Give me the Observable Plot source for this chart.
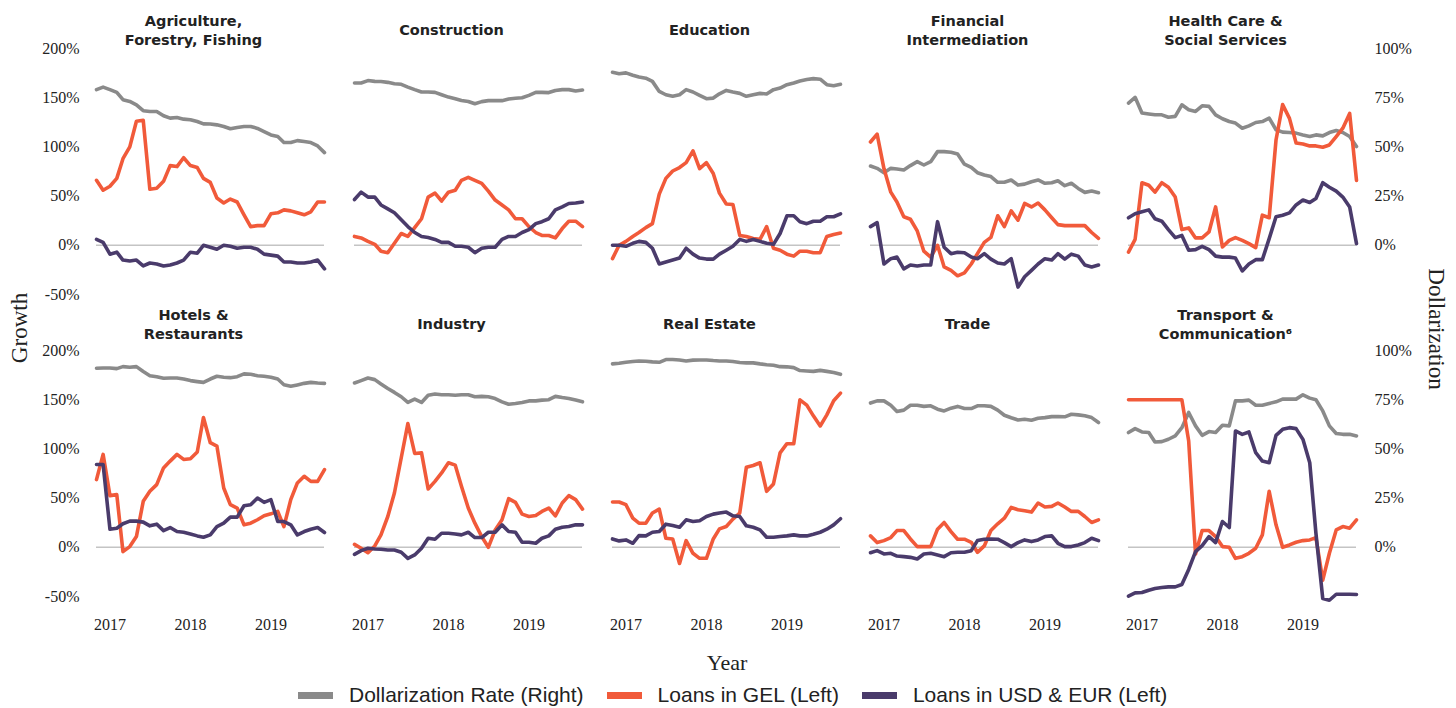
<!DOCTYPE html>
<html>
<head>
<meta charset="utf-8">
<script src="https://cdn.jsdelivr.net/npm/d3@7"></script>
<script src="https://cdn.jsdelivr.net/npm/@observablehq/plot@0.6"></script>
<style>
  html, body { margin: 0; padding: 0; background: #fff; }
  #wrap { position: relative; width: 1456px; height: 708px; overflow: hidden; }
  .axlab { position: absolute; font-family: "Liberation Serif", serif; font-size: 23px; color: #222; white-space: nowrap; }
  #growth { left: 20px; top: 328px; transform: translate(-50%, -50%) rotate(-90deg); }
  #dollar { left: 1436px; top: 329px; transform: translate(-50%, -50%) rotate(90deg); }
  #year { left: 727px; top: 663px; transform: translate(-50%, -50%); font-size: 22px; }
  #legend { position: absolute; left: 298px; top: 695px; transform: translateY(-50%); display: flex; align-items: center;
            font-family: "Liberation Sans", Arial, sans-serif; font-size: 21px; color: #222; white-space: nowrap; }
  .sw { display: inline-block; width: 35px; height: 7px; margin-right: 16px; }
  .item { display: flex; align-items: center; margin-right: 23px; }
</style>
</head>
<body>
<div id="wrap">
  <div id="chart"></div>
  <div class="axlab" id="growth">Growth</div>
  <div class="axlab" id="dollar">Dollarization</div>
  <div class="axlab" id="year">Year</div>
  <div id="legend"></div>
</div>
<script>
// Sectors (row-major, 5 columns x 2 rows)
const sectors = [
  "Agriculture,\nForestry, Fishing", "Construction", "Education", "Financial\nIntermediation", "Health Care &\nSocial Services",
  "Hotels &\nRestaurants", "Industry", "Real Estate", "Trade", "Transport &\nCommunication\u2076"
];

// Monthly observations: Nov 2016 – Sep 2019
const firstMonth = new Date(Date.UTC(2016, 10, 1));
const lastMonth = new Date(Date.UTC(2019, 8, 1));
const yearTicks = [2017, 2018, 2019];

// Dollarization rate (%), right axis
const dollarRate = [
  [79.1,80.4,79.1,77.7,74.0,73.1,71.4,68.4,68.0,68.0,65.8,64.6,64.9,64.1,63.8,62.9,61.7,61.6,61.2,60.4,59.2,59.9,60.4,60.4,59.4,57.8,56.1,55.3,52.2,52.2,53.2,52.7,52.2,50.5,47.1],
  [82.5,82.5,83.7,83.3,83.2,82.8,82.1,81.8,80.4,79.1,77.9,77.9,77.7,76.5,75.3,74.5,73.6,73.1,71.9,73.0,73.5,73.6,73.5,74.3,74.7,75.0,76.2,77.7,77.7,77.6,78.7,79.1,79.1,78.4,78.9],
  [87.9,87.2,87.6,86.4,85.5,84.9,83.3,78.2,76.5,75.7,76.5,79.1,77.9,76.2,74.5,74.8,77.0,78.7,77.9,77.2,75.7,76.5,77.2,76.9,79.1,79.9,81.6,82.5,83.5,84.2,84.7,84.4,81.6,81.1,81.8],
  [40.3,39.1,36.9,39.1,38.8,38.3,40.5,42.5,40.8,42.5,47.6,47.6,47.3,46.4,41.2,39.6,36.9,35.7,34.9,32.0,32.0,33.2,30.6,31.1,32.3,33.2,31.5,31.8,32.8,30.3,31.5,28.9,26.9,27.6,26.7],
  [72.3,75.2,67.2,66.7,66.3,66.3,65.1,65.5,71.4,68.9,68.0,70.9,70.6,66.3,64.3,62.9,62.1,59.5,60.7,62.4,62.9,64.6,58.7,57.5,57.3,57.0,56.1,55.3,56.1,55.6,57.3,58.3,57.3,55.3,50.2],
  [91.0,91.1,91.1,90.8,91.8,91.5,91.8,89.3,87.2,86.7,85.9,86.0,86.0,85.5,84.7,84.2,83.8,85.5,86.9,86.4,86.2,86.7,88.1,87.9,87.2,86.9,86.4,85.5,82.6,81.8,82.5,83.3,83.8,83.5,83.3],
  [83.5,84.7,86.0,85.2,83.0,80.7,78.7,76.5,73.6,75.3,73.6,77.3,77.9,77.5,77.5,77.3,77.5,77.5,76.5,76.7,76.5,75.6,73.9,72.7,73.1,73.6,74.4,74.4,74.8,75.0,76.7,76.1,75.6,74.8,73.9],
  [93.2,93.5,94.0,94.4,94.7,94.5,94.2,94.0,95.4,95.4,95.2,94.7,95.1,95.2,95.2,94.9,94.7,94.7,94.4,93.9,93.7,93.7,93.2,92.8,92.5,91.8,91.7,91.3,89.8,89.6,89.4,89.9,89.4,88.8,87.9],
  [73.3,74.4,74.4,72.2,69.0,69.7,72.2,72.2,71.6,71.9,70.2,69.3,70.7,71.6,70.5,70.5,71.9,71.9,71.6,69.7,67.1,65.8,64.7,65.1,64.6,65.6,65.9,66.4,66.4,66.3,67.6,67.3,66.8,65.9,63.4],
  [58.3,60.3,58.6,58.3,53.5,53.7,54.9,56.6,60.8,68.5,61.7,56.9,58.8,58.3,62.0,61.7,74.4,74.4,74.8,72.2,72.2,73.1,73.9,75.3,75.3,75.3,77.5,75.8,75.0,69.3,61.7,57.8,57.4,57.4,56.6]
];

// Growth of loans in GEL (%), left axis
const gelGrowth = [
  [66,56,60,68,88,100,126,127,57,58,65,81,80,89,81,79,68,64,48,43,47,44,31,19,20,20,32,33,36,35,33,31,34,44,44],
  [9,7.5,4,1,-6,-7.5,2,12,9,18,27,49,53,45,54,56,66,69,66,63,55,46,41,36,27,27,19,13,10,10,7.5,17,24.5,24.5,19],
  [-13.5,0,4,9,13,18,22,52,68,75.5,79,84,96,78,84,73,53,42,41.5,10,9,7,6,19,-3,-5,-9,-11,-6,-6,-7.5,-7.5,9,11,12.5],
  [105,113,78,54,44,29,26.5,14.6,-6,-12,0,-22,-25.5,-31,-28,-19,-8.5,3,8,30,19,35,25.5,42.5,39,43,36,28,21,20,20,20,20,13,7],
  [-7,6,63.6,61,54,63.6,59,49,16,17.7,7.5,7.5,13.6,39,-1.7,5,7.8,5,1.7,-2.4,30.6,28,107,143,129,104,103,101,101,99.7,102,110.5,119,134,66],
  [68.8,94.4,52.5,53.5,-4.4,0.7,10.9,46.7,56.9,63.7,80.7,87.6,94.4,89.3,90,96.8,131.9,106.3,102.9,60.3,43.3,39.9,22.8,24.5,28,32,34,36.5,21,48.4,65.4,72.2,67,67,79],
  [3,-1,-5.5,1.4,12.6,31.3,55.2,91,125.7,95.4,96,59.3,67,75.6,85.9,83.5,62,39.9,24.5,10.9,0,17.7,28,49.4,45.7,33.7,31.3,32.4,36.5,39.9,32,45,52.5,48.4,38.8],
  [46,46,43.3,29.6,24.5,24.5,34.8,38.8,9.2,8.5,-16.4,6.8,-6.1,-11.2,-11.2,8.5,18.7,21.1,28.6,34.8,81.4,83.1,85.9,56.9,64.4,96,105.3,105.3,149.9,144.5,133.6,123.3,134.6,148.9,156.7],
  [11.6,4.8,6.8,9.9,17,17,8.5,0.7,0.7,0.7,18.4,25.2,16,8.2,8.2,5.1,-5.1,1.4,17,23.9,29.6,40.5,38.2,37.1,35.8,45,40.9,41.6,45,40.9,36.5,36.5,31.3,25.2,27.9],
  [150,150,150,150,150,150,150,150,150,108,-6.8,17,17,10.9,0.7,0,-11.2,-9.5,-6.1,-1,12.6,56.9,22.8,0,2.4,5.1,6.8,7.5,9.9,-33.4,-6.1,17.7,21.1,19.4,27.9]
];

// Growth of loans in USD & EUR (%), left axis
const fxGrowth = [
  [6,3,-9,-7,-15,-16,-15,-21,-18,-19,-21,-20,-18,-15,-7,-8,0,-2,-4,0,-1,-3,-2,-2,-4,-9,-10,-11,-17,-17,-18,-18,-17,-15,-24],
  [46.5,54,49,49,41,37,33,26,19,13,9,8,6,3,3,-1,-1,-2,-7.5,-3,-2,-2,6,9,9,13,16,22,24,27,36,39,42.5,43,44],
  [0,0,-1,2,4,3,-3,-19,-17,-15,-13,-3,-9,-13,-14,-14,-9,-5,-1,6,4,6,4,2,1,12,30,30,24,22,24.5,24.5,29,29,32],
  [19,23,-19,-13.6,-12,-24,-20,-21,-20,-20,24,-2,-8.5,-7,-7.5,-12,-13.6,-8.5,-14,-18,-19,-13.6,-42.5,-32,-25.5,-19,-13.6,-15,-8.5,-14,-9,-11,-20,-22,-20],
  [28,32,34,36,27,24.5,16,7.8,10,-5,-4.4,-1,-4.4,-11,-12,-12,-13,-26,-19,-14.6,-14.6,6.8,29,30.6,33,41,46,43.5,47.6,63.6,59,55,49,39,1.7],
  [84.2,84.2,18.4,19.4,23.9,26.6,26.6,25.6,21.8,23.5,17,20.1,16,15.3,13.6,11.6,10.2,12.6,21.1,24.5,30.7,30.7,42.2,43.3,50.1,45.7,48.4,26.2,26.2,22.8,12.6,16,18.4,20.1,15],
  [-7.2,-3.4,-1,-1.7,-2,-2.7,-2.7,-5,-11.2,-7.8,-1,9.2,8.2,14.3,14.3,13.6,12.6,15.3,9.9,9.9,15.3,15.3,22.8,16,15.3,5.1,5.1,4.1,9.2,11.6,18.4,20.4,21.1,22.8,22.8],
  [8.5,6.5,7.5,4.1,11.9,11.6,15.3,16,23.5,22.1,20.4,27.9,26.2,26.9,31.3,33.7,34.8,35.8,32,31.3,21.8,20.4,17.7,10.2,10.2,10.9,11.6,12.6,11.6,11.6,13.3,15.3,18.4,22.8,29],
  [-5.5,-3.4,-6.8,-6.1,-8.9,-9.5,-10.2,-11.9,-6.8,-6.1,-7.8,-9.5,-5.5,-5.1,-5.1,-3.4,6.8,8.2,8.5,8.2,4.8,0.7,4.8,7.5,5.8,7.5,10.9,11.6,4.1,0.7,0.7,2.4,4.8,9.2,6.8],
  [-49.7,-46.3,-46,-43.6,-41.9,-40.9,-40.2,-40.2,-37.8,-22.5,-4.4,1.7,10.9,4.8,26.2,20.1,118.2,114.8,117.2,96.1,87.6,85.9,113.8,119.9,121.6,120.6,109.7,85.9,14.3,-52.1,-53.8,-47.7,-47.7,-47.7,-48]
];

const leftTicks = [-50, 0, 50, 100, 150, 200];
const rightTicks = [0, 25, 50, 75, 100];

const seriesNames = ["Dollarization Rate (Right)", "Loans in GEL (Left)", "Loans in USD & EUR (Left)"];
const seriesColors = ["#8a8a8a", "#f15a3a", "#4a3b6b"];

// Build long table
const months = d3.utcMonth.range(firstMonth, d3.utcMonth.offset(lastMonth, 1));
const rows = [];
sectors.forEach((s, i) => {
  const col = i % 5, row = Math.floor(i / 5);
  months.forEach((m, j) => {
    rows.push({sector: s, col, row, date: m, series: seriesNames[0], v: dollarRate[i][j] * 2});
    rows.push({sector: s, col, row, date: m, series: seriesNames[1], v: gelGrowth[i][j]});
    rows.push({sector: s, col, row, date: m, series: seriesNames[2], v: fxGrowth[i][j]});
  });
});
const titles = sectors.map((s, i) => ({text: s, col: i % 5, row: Math.floor(i / 5)}));

const lineFor = (k) => Plot.lineY(rows.filter(d => d.series === seriesNames[k]), {
  x: "date", y: "v", z: "sector", fx: "col", fy: "row",
  stroke: seriesColors[k], strokeWidth: 3.6, strokeLinejoin: "round", strokeLinecap: "round"
});

const titleFor = (r, dy) => Plot.text(titles.filter(d => d.row === r), {
  fx: "col", fy: "row", text: "text", frameAnchor: "top", lineAnchor: "middle",
  dx: -17, dy, fontFamily: "'DejaVu Sans', sans-serif", fontWeight: 700, fontSize: 14.5, fill: "#222", lineHeight: 1.28
});

const chart = Plot.plot({
  width: 1456,
  height: 640,
  marginLeft: 95,
  marginRight: 99,
  marginTop: 48,
  marginBottom: 44,
  style: {fontFamily: "'Liberation Serif', serif", fontSize: "16px", color: "#222", background: "#fff"},
  fx: {domain: [0, 1, 2, 3, 4], paddingInner: 0.118, paddingOuter: 0, axis: null},
  fy: {domain: [0, 1], paddingInner: 0.187, paddingOuter: 0, axis: null},
  x: {type: "utc", domain: [firstMonth, lastMonth]},
  y: {domain: [-50, 200]},
  marks: [
    Plot.ruleY([0], {stroke: "#c4c4c4", strokeWidth: 1.5}),
    lineFor(0),
    lineFor(1),
    lineFor(2),
    Plot.axisY({anchor: "left", ticks: leftTicks, tickFormat: d => d + "%", tickSize: 0, tickPadding: 17, label: null, fontSize: 16}),
    Plot.axisY({anchor: "right", ticks: rightTicks.map(d => d * 2), tickFormat: d => (d / 2) + "%", tickSize: 0, tickPadding: 18, label: null, fontSize: 16}),
    Plot.axisX({anchor: "bottom", ticks: yearTicks.map(y => new Date(Date.UTC(y, 0, 1))), tickFormat: d3.utcFormat("%Y"), tickSize: 0, tickPadding: 22, label: null, fontSize: 16}),
    titleFor(0, -19),
    titleFor(1, -27)
  ]
});
document.getElementById("chart").appendChild(chart);

// Legend
const legend = document.getElementById("legend");
seriesNames.forEach((name, k) => {
  const item = document.createElement("div");
  item.className = "item";
  const sw = document.createElement("span");
  sw.className = "sw";
  sw.style.background = seriesColors[k];
  item.appendChild(sw);
  item.appendChild(document.createTextNode(name));
  legend.appendChild(item);
});
</script>
</body>
</html>
